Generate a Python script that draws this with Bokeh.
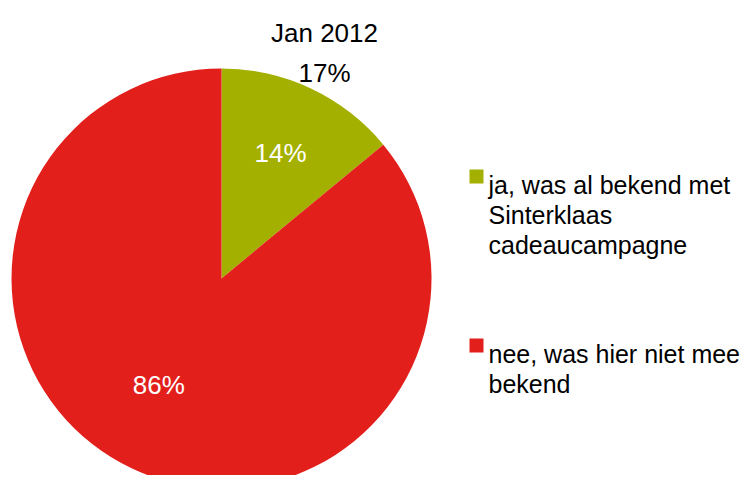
import math
from bokeh.plotting import figure
from bokeh.models import Range1d, ColumnDataSource
from bokeh.core.properties import value
from bokeh.embed import file_html
from bokeh.resources import INLINE

# ---- data ----
categories = ["ja, was al bekend met Sinterklaas cadeaucampagne",
              "nee, was hier niet mee bekend"]
legend_lines = [["ja, was al bekend met", "Sinterklaas", "cadeaucampagne"],
                ["nee, was hier niet mee", "bekend"]]
values = [14, 86]
slice_labels = ["14%", "86%"]
title_text = "Jan 2012"
subtitle_text = "17%"
colors = ["#a4b000", "#e31f1c"]

# ---- layout (pixel space) ----
W, H = 747, 475


def fx(sx):
    return sx


def fy(sy):
    return H - sy


FONT = value("Liberation Sans")
FS = "26px"
LEG_FS = "25px"

p = figure(width=W, height=H, output_backend="svg", toolbar_location=None,
           x_range=Range1d(0, W), y_range=Range1d(0, H),
           x_axis_location=None, y_axis_location=None,
           min_border=0, outline_line_color=None)
p.grid.visible = False
p.background_fill_color = "white"
p.border_fill_color = "white"

# pie
cx, cy, r = fx(221), fy(278), 210
total = sum(values)
starts, ends = [], []
a = math.pi / 2
for v in values:
    starts.append(a)
    a -= v / total * 2 * math.pi
    ends.append(a)
src = ColumnDataSource(dict(start=starts, end=ends, color=colors))
p.wedge(x=cx, y=cy, radius=r, start_angle="start", end_angle="end",
        direction="clock", fill_color="color", line_color=None, source=src)

# slice labels
label_frac = [0.66, 0.59]
label_rot = [0.0, -0.09]
lx, ly = [], []
for s, e, f, rot in zip(starts, ends, label_frac, label_rot):
    m = (s + e) / 2 + rot
    lx.append(cx + f * r * math.cos(m))
    ly.append(cy + f * r * math.sin(m))
p.text(x=lx, y=ly, text=slice_labels, text_color="white", text_font=FONT,
       text_font_size=FS, text_align="center", text_baseline="middle")

# title
p.text(x=[fx(324)], y=[fy(32)], text=[title_text], text_color="black",
       text_font=FONT, text_font_size=FS, text_align="center",
       text_baseline="alphabetic")
p.text(x=[fx(324)], y=[fy(72)], text=[subtitle_text], text_color="black",
       text_font=FONT, text_font_size=FS, text_align="center",
       text_baseline="alphabetic")

# legend
leg_base = [184, 353]
line_h = 30
for i, lines in enumerate(legend_lines):
    b = leg_base[i]
    p.rect(x=[fx(476)], y=[fy(b - 8)], width=14, height=14,
           fill_color=colors[i], line_color=None)
    ys = [fy(b + k * line_h) for k in range(len(lines))]
    p.text(x=[fx(488)] * len(lines), y=ys, text=lines, text_color="black",
           text_font=FONT, text_font_size=LEG_FS, text_align="left",
           text_baseline="alphabetic")

open("out.html", "w").write(file_html(p, INLINE))
